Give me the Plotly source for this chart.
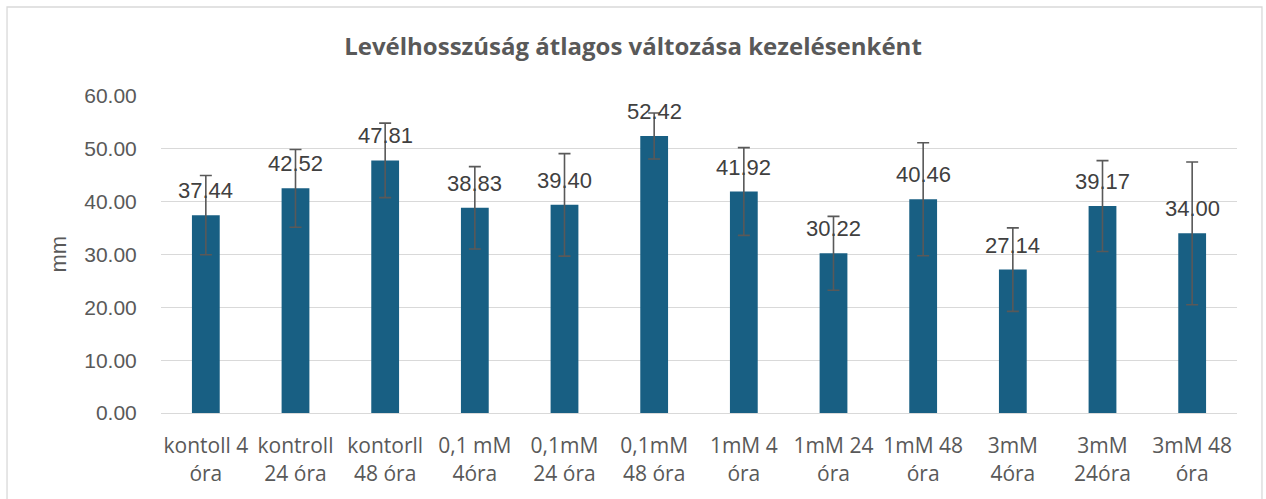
import plotly.graph_objects as go

categories = ["kontoll 4 óra", "kontroll 24 óra", "kontorll 48 óra", "0,1 mM 4óra",
              "0,1mM 24 óra", "0,1mM 48 óra", "1mM 4 óra", "1mM 24 óra",
              "1mM 48 óra", "3mM 4óra", "3mM 24óra", "3mM 48 óra"]
tick_labels = ["kontoll 4<br>óra", "kontroll<br>24 óra", "kontorll<br>48 óra", "0,1 mM<br>4óra",
               "0,1mM<br>24 óra", "0,1mM<br>48 óra", "1mM 4<br>óra", "1mM 24<br>óra",
               "1mM 48<br>óra", "3mM<br>4óra", "3mM<br>24óra", "3mM 48<br>óra"]
means = [37.44, 42.52, 47.81, 38.83, 39.40, 52.42, 41.92, 30.22, 40.46, 27.14, 39.17, 34.00]
errors = [7.5, 7.35, 7.05, 7.8, 9.7, 4.35, 8.3, 7.0, 10.7, 7.9, 8.6, 13.5]
y_ticks = [0, 10, 20, 30, 40, 50, 60]

GRAY = "#595959"
FONT = "Liberation Sans, Arial, sans-serif"

fig = go.Figure()
fig.add_trace(go.Bar(
    x=categories, y=means,
    marker=dict(color="#185f83", line=dict(width=0)),
    width=0.31,
    error_y=dict(type="data", array=errors, visible=True,
                 color=GRAY, thickness=1.6, width=6),
    hoverinfo="x+y",
))

for c, m in zip(categories, means):
    fig.add_annotation(x=c, y=m, text=f"{m:.2f}", showarrow=False,
                       yanchor="bottom", yshift=10,
                       font=dict(family=FONT, size=22, color="#404040"))

fig.add_annotation(xref="paper", yref="paper", x=-0.0957, y=0.5, text="mm",
                   textangle=-90, showarrow=False, xanchor="center", yanchor="middle",
                   font=dict(family=FONT, size=22, color=GRAY))

# outer chart border
fig.add_shape(type="rect", xref="paper", yref="paper",
              x0=-0.1431, x1=1.0232, y0=-0.32, y1=1.2808,
              line=dict(color="#d9d9d9", width=1.3), fillcolor="rgba(0,0,0,0)", layer="below")

fig.update_layout(
    width=1266, height=499,
    margin=dict(l=161, r=29, t=96, b=86),
    paper_bgcolor="white", plot_bgcolor="white",
    showlegend=False,
    title=dict(text="<b>Levélhosszúság átlagos változása kezelésenként</b>",
               x=0.5, xanchor="center", y=0.906, yanchor="middle",
               xref="container",
               font=dict(family="Open Sans, sans-serif", size=24, color=GRAY)),
    xaxis=dict(tickmode="array", tickvals=categories, ticktext=tick_labels,
               tickfont=dict(family="Open Sans, sans-serif", size=21, color=GRAY),
               showgrid=False, showline=False, zeroline=False, tickangle=0,
               ticks="outside", ticklen=14, tickcolor="rgba(0,0,0,0)"),
    yaxis=dict(range=[0, 60], tickvals=y_ticks, tickformat=".2f",
               tickfont=dict(family=FONT, size=21, color=GRAY),
               showgrid=True, gridcolor="#d9d9d9", gridwidth=1.3,
               zeroline=True, zerolinecolor="#d9d9d9", zerolinewidth=1.3,
               showline=False, ticks="outside", ticklen=19, tickcolor="rgba(0,0,0,0)"),
)

fig.write_html("out.html", config={"displayModeBar": False},
               post_script="document.body.style.margin='0px';")
